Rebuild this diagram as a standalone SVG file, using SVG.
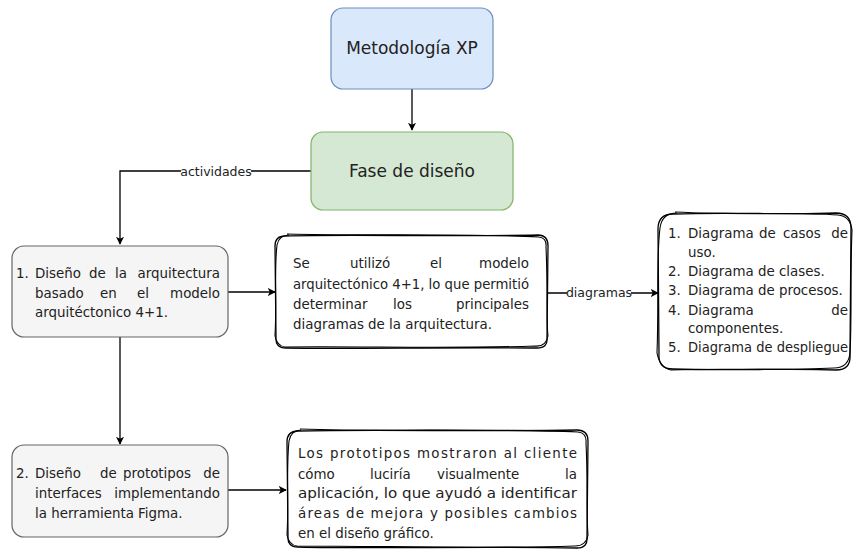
<svg xmlns="http://www.w3.org/2000/svg" width="855" height="552" viewBox="0 0 855 552">
<defs>
<marker id="ah" viewBox="0 0 10 10" refX="9" refY="5" markerWidth="8" markerHeight="8" orient="auto" markerUnits="userSpaceOnUse">
<path d="M0,0 L10,5 L0,10 L2.5,5 Z" fill="#000"/>
</marker>
</defs>
<style>
text{font-family:"DejaVu Sans","Liberation Sans",sans-serif;fill:#222;}
.t{font-size:13.4px;}
.title{font-size:17px;text-anchor:middle;}
.lbl{font-size:12.5px;text-anchor:middle;}
.e{text-anchor:end;}
.gray{fill:#f5f5f5;stroke:#666;stroke-width:1.2;}
.sk{fill:#fff;stroke:#000;stroke-width:1.3;}
.sk2{fill:none;stroke:#000;stroke-width:1.1;}
.con{fill:none;stroke:#000;stroke-width:1.3;}
</style>

<g id="connectors">
<path class="con" d="M412,89 L412,130" marker-end="url(#ah)"/>
<path class="con" d="M311,171 L120,171 L120,244" marker-end="url(#ah)"/>
<rect x="181" y="164" width="70" height="15" fill="#fff"/>
<text class="lbl" x="216" y="176">actividades</text>
<path class="con" d="M228,292 L275,292" marker-end="url(#ah)"/>
<path class="con" d="M548,293 L658,293" marker-end="url(#ah)"/>
<rect x="567" y="286" width="64" height="15" fill="#fff"/>
<text class="lbl" x="599" y="297">diagramas</text>
<path class="con" d="M120,337 L120,444" marker-end="url(#ah)"/>
<path class="con" d="M228,490 L286,490" marker-end="url(#ah)"/>
</g>

<g id="metodologia">
<rect x="331" y="8" width="162" height="81" rx="12" fill="#dae8fc" stroke="#6c8ebf" stroke-width="1.2"/>
<text class="title" x="412" y="54">Metodología XP</text>
</g>

<g id="fase">
<rect x="311" y="132" width="202" height="78" rx="12" fill="#d5e8d4" stroke="#82b366" stroke-width="1.2"/>
<text class="title" x="412" y="177">Fase de diseño</text>
</g>

<g id="actividad1">
<rect class="gray" x="12" y="246" width="216" height="91" rx="12"/>
<text class="t" x="16" y="278">1.</text>
<text class="t" x="35" y="278">Diseño</text>
<text class="t" x="89" y="278">de</text>
<text class="t" x="115" y="278">la</text>
<text class="t e" x="220" y="278">arquitectura</text>
<text class="t" x="35" y="298">basado</text>
<text class="t" x="100" y="298">en</text>
<text class="t" x="137" y="298">el</text>
<text class="t e" x="220" y="298">modelo</text>
<text class="t" x="35" y="317">arquitéctonico 4+1.</text>
</g>

<g id="modelo41">
<path class="sk" d="M285,236 C350,234 450,237 538,235 Q548,235 548,246 L547,338 Q548,348 537,348 C450,347 350,349 286,348 Q275,348 276,337 L275,246 Q275,236 285,236 Z"/>
<path class="sk2" d="M287,234 C360,236 460,233 539,237 Q547,238 546,247 C548,290 546,320 548,336 Q546,347 535,346 C450,349 360,346 285,347 Q277,346 275,336 C277,300 274,270 277,245 Q279,235 289,235"/>
<text class="t" x="293" y="268">Se</text>
<text class="t" x="350" y="268">utilizó</text>
<text class="t" x="430" y="268">el</text>
<text class="t e" x="529" y="268">modelo</text>
<text class="t" x="293" y="289" textLength="236" lengthAdjust="spacingAndGlyphs">arquitectónico 4+1, lo que permitió</text>
<text class="t" x="293" y="309">determinar</text>
<text class="t" x="393" y="309">los</text>
<text class="t e" x="529" y="309">principales</text>
<text class="t" x="293" y="329">diagramas de la arquitectura.</text>
</g>

<g id="diagramas">
<path class="sk" d="M673,214 C730,212 790,215 836,213 Q851,213 851,228 L850,355 Q851,370 836,370 C790,368 730,371 673,369 Q658,369 659,354 L658,229 Q658,214 673,214 Z"/>
<path class="sk2" d="M675,212 C740,215 800,212 838,215 Q850,216 852,230 C850,280 852,320 850,352 Q849,368 834,368 C780,371 720,368 671,370 Q660,368 657,353 C659,300 656,260 660,228 Q662,213 677,213"/>
<text class="t" x="668" y="238">1.</text>
<text class="t" x="688" y="238">Diagrama</text>
<text class="t" x="759" y="238">de</text>
<text class="t" x="783" y="238">casos</text>
<text class="t e" x="848" y="238">de</text>
<text class="t" x="688" y="257">uso.</text>
<text class="t" x="668" y="276">2.</text>
<text class="t" x="688" y="276">Diagrama de clases.</text>
<text class="t" x="668" y="295">3.</text>
<text class="t" x="688" y="295">Diagrama de procesos.</text>
<text class="t" x="668" y="315">4.</text>
<text class="t" x="688" y="315">Diagrama</text>
<text class="t e" x="848" y="315">de</text>
<text class="t" x="688" y="333">componentes.</text>
<text class="t" x="668" y="352">5.</text>
<text class="t" x="688" y="352" textLength="160" lengthAdjust="spacingAndGlyphs">Diagrama de despliegue</text>
</g>

<g id="actividad2">
<rect class="gray" x="12" y="445" width="216" height="92" rx="12"/>
<text class="t" x="16" y="478">2.</text>
<text class="t" x="35" y="478">Diseño</text>
<text class="t" x="100" y="478">de</text>
<text class="t" x="123" y="478">prototipos</text>
<text class="t e" x="220" y="478">de</text>
<text class="t" x="35" y="498">interfaces</text>
<text class="t e" x="220" y="498">implementando</text>
<text class="t" x="35" y="518">la herramienta Figma.</text>
</g>

<g id="prototipos">
<path class="sk" d="M298,431 C380,429 480,432 577,430 Q588,430 588,441 L587,537 Q588,548 577,548 C480,546 380,549 298,547 Q287,547 288,536 L287,442 Q287,431 298,431 Z"/>
<path class="sk2" d="M300,429 C390,432 490,428 578,432 Q587,433 586,443 C588,480 586,510 588,535 Q586,546 575,546 C480,549 390,546 297,546 Q289,545 287,535 C289,500 286,470 289,441 Q291,430 301,430"/>
<text class="t" x="298" y="458" textLength="279" lengthAdjust="spacing">Los prototipos mostraron al cliente</text>
<text class="t" x="298" y="479">cómo</text>
<text class="t" x="370" y="479">luciría</text>
<text class="t" x="437" y="479">visualmente</text>
<text class="t e" x="577" y="479">la</text>
<text class="t" x="298" y="498" textLength="279" lengthAdjust="spacingAndGlyphs">aplicación, lo que ayudó a identificar</text>
<text class="t" x="298" y="518" textLength="279" lengthAdjust="spacing">áreas de mejora y posibles cambios</text>
<text class="t" x="298" y="538">en el diseño gráfico.</text>
</g>
</svg>
